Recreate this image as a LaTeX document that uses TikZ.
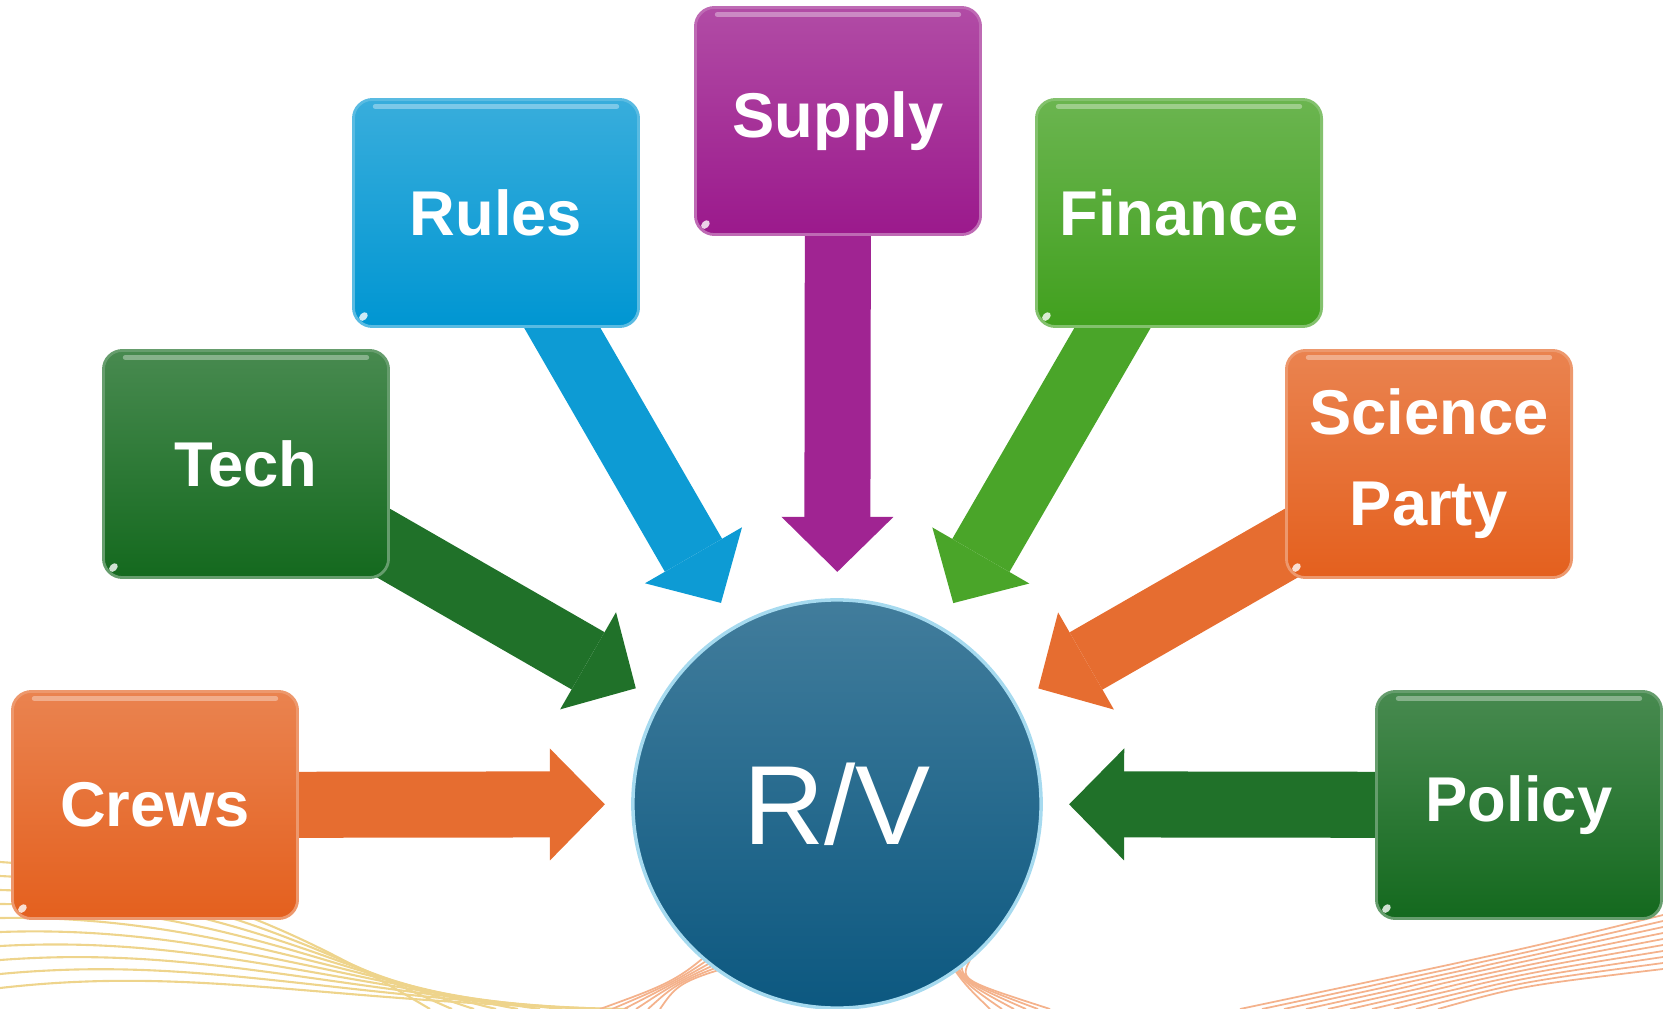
\documentclass[tikz,border=0pt]{standalone}
\usepackage{fontspec}
\setmainfont{Liberation Sans}
\usetikzlibrary{arrows.meta,calc}
\pgfdeclarelayer{bg}
\pgfsetlayers{bg,main}
\definecolor{orng}{RGB}{228,96,30}
\definecolor{dgrn}{RGB}{20,105,30}
\definecolor{blu}{RGB}{0,150,210}
\definecolor{purp}{RGB}{155,25,140}
\definecolor{lgrn}{RGB}{65,160,30}
\definecolor{sea}{RGB}{12,88,128}
\definecolor{wave}{RGB}{238,212,140}
\definecolor{wavo}{RGB}{244,178,140}
\begin{document}
\begin{tikzpicture}[x=0.01cm, y=-0.01cm, line join=round,
	box/.style={rounded corners=0.19cm, minimum width=2.85cm, minimum height=2.27cm,
		text=white, align=center, font=\fontsize{18}{25.9}\selectfont\bfseries,
		draw=#1!65!white, line width=0.8pt, top color=#1!78!white, bottom color=#1,
		path picture={
			\fill[white, opacity=0.8] ($(path picture bounding box.south west)+(0.1cm,0.1cm)$)
				ellipse [x radius=0.05cm, y radius=0.035cm, rotate=45];
			\draw[white, opacity=0.35, line width=1.5pt, line cap=round]
				($(path picture bounding box.north west)+(0.22cm,-0.07cm)$) --
				($(path picture bounding box.north east)+(-0.22cm,-0.07cm)$);
		}},
	link/.style={line width=0.66cm, draw=#1, line cap=butt,
		-{Triangle[width=1.12cm, length=0.55cm, line width=0pt]}}]
	\def\gap{2.32cm} % tip to centre of R/V
	\useasboundingbox (0,0) rectangle (1663,1009);
	% boxes
	\node[box=orng] (crews) at (155,805) {Crews};
	\node[box=dgrn] (tech) at (246,464) {Tech};
	\node[box=blu] (rules) at (496,213) {Rules};
	\node[box=purp] (supply) at (838,121) {Supply};
	\node[box=lgrn] (finance) at (1179,213) {Finance};
	\node[box=orng] (science) at (1429,464) {Science\\Party};
	\node[box=dgrn] (policy) at (1519,805) {Policy};
	\node[circle, minimum size=4.08cm, inner sep=0pt, draw=blu!35!white, line width=1pt,
		top color=sea!78!white, bottom color=sea, text=white,
		font=\fontsize{32}{36}\selectfont] (rv) at (837,804) {R/V};
	\foreach \n in {crews,tech,rules,supply,finance,science,policy}
		\coordinate (tip-\n) at ($(rv.center)!\gap!(\n.center)$);
	\begin{pgfonlayer}{bg}
		% faint waves
		\foreach \k in {0,...,9}{
			\draw[wave, line width=0.6pt] (0,{862+14*\k}) .. controls (200,{875+10*\k}) and (330,{950+6*\k}) .. ({430+22*\k},1009);
			\draw[wavo, line width=0.5pt] (1663,{915+6*\k}) .. controls (1520,{950+4*\k}) .. ({1240+22*\k},1009);
		}
		\foreach \k in {0,...,5}{
			\draw[wavo, line width=0.5pt] ({600+12*\k},1009) .. controls (680,980) .. ({740+10*\k},{925+5*\k});
			\draw[wavo, line width=0.5pt] ({930+8*\k},{930+6*\k}) .. controls (960,980) .. ({990+12*\k},1009);
		}
		% arrows
		\draw[link={orng!92!white}] (crews.center) -- (tip-crews);
		\draw[link={dgrn!95!white}] (tech.center) -- (tip-tech);
		\draw[link={blu!95!white}] (rules.center) -- (tip-rules);
		\draw[link={purp!95!white}] (supply.center) -- (tip-supply);
		\draw[link={lgrn!95!white}] (finance.center) -- (tip-finance);
		\draw[link={orng!92!white}] (science.center) -- (tip-science);
		\draw[link={dgrn!95!white}] (policy.center) -- (tip-policy);
	\end{pgfonlayer}
\end{tikzpicture}
\end{document}
